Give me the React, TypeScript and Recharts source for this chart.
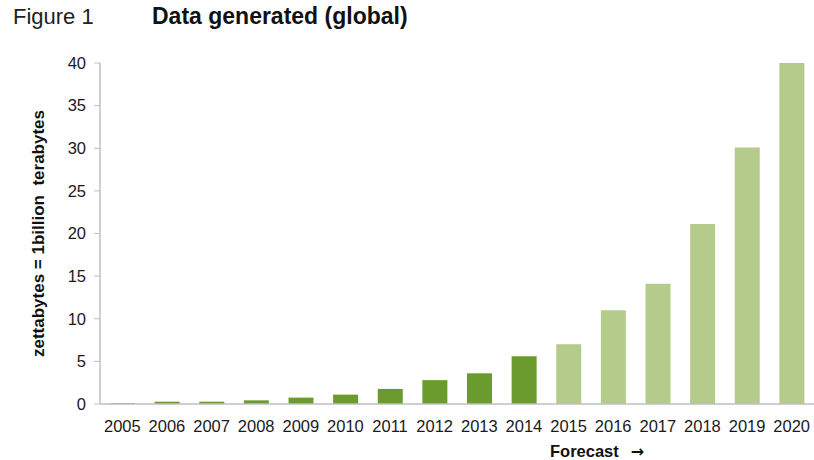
import { BarChart, Bar, XAxis, YAxis, Cell } from 'recharts'

const years = [
  '2005', '2006', '2007', '2008', '2009', '2010', '2011', '2012',
  '2013', '2014', '2015', '2016', '2017', '2018', '2019', '2020'
]
const zettabytes = [
  0.1, 0.27, 0.27, 0.43, 0.75, 1.1, 1.77, 2.8,
  3.6, 5.6, 7.0, 11.0, 14.1, 21.1, 30.1, 40.0
]
const forecastFrom = '2015'
const yTicks = [0, 5, 10, 15, 20, 25, 30, 35, 40]

const data = years.map((year, i) => ({ year, value: zettabytes[i] }))

const font = '"Liberation Sans", Arial, sans-serif'
const axisGrey = '#bfbfbf'
const actualGreen = '#6b9b2c'
const forecastGreen = '#b4cb8b'

function App(): JSX.Element {
  return (
    <div
      style={{
        position: 'absolute',
        left: 0,
        top: 0,
        width: 814,
        height: 460,
        overflow: 'hidden',
        background: '#fff',
        fontFamily: font
      }}
    >
      <div style={{ position: 'absolute', left: 13, top: 4, fontSize: 22, color: '#222' }}>
        Figure 1
      </div>
      <div
        style={{
          position: 'absolute',
          left: 152,
          top: 3,
          fontSize: 23,
          fontWeight: 'bold',
          color: '#111'
        }}
      >
        Data generated (global)
      </div>
      <BarChart
        width={814}
        height={460}
        data={data}
        margin={{ top: 63, right: 0, left: 0, bottom: 26 }}
      >
        <XAxis
          dataKey="year"
          height={30}
          tickLine={false}
          tickMargin={10}
          axisLine={{ stroke: axisGrey, strokeWidth: 1.5 }}
          tick={{ fill: '#1a1a1a', fontSize: 16.5, fontFamily: font }}
          interval={0}
        />
        <YAxis
          width={100}
          domain={[0, 40]}
          ticks={yTicks}
          tickMargin={8}
          axisLine={{ stroke: axisGrey, strokeWidth: 1.5 }}
          tickLine={{ stroke: axisGrey }}
          tick={{ fill: '#1a1a1a', fontSize: 16.5, fontFamily: font }}
          label={{
            value: 'zettabytes = 1billion\u00a0\u00a0terabytes',
            angle: -90,
            position: 'insideLeft',
            offset: 38,
            textAnchor: 'middle',
            style: { fontWeight: 'bold', fontSize: 17, fill: '#111', fontFamily: font }
          }}
        />
        <Bar dataKey="value" barSize={25} isAnimationActive={false}>
          {data.map((d) => (
            <Cell
              key={d.year}
              fill={Number(d.year) >= Number(forecastFrom) ? forecastGreen : actualGreen}
            />
          ))}
        </Bar>
      </BarChart>
      <div
        style={{
          position: 'absolute',
          left: 550,
          top: 444,
          height: 14,
          lineHeight: '14px',
          fontSize: 16.5,
          fontWeight: 'bold',
          color: '#111',
          whiteSpace: 'nowrap'
        }}
      >
        Forecast
        <span
          style={{
            display: 'inline-block',
            height: 14,
            lineHeight: '14px',
            marginLeft: 12,
            fontFamily: '"DejaVu Sans", sans-serif',
            fontSize: 16
          }}
        >
          →
        </span>
      </div>
    </div>
  )
}

export default App
